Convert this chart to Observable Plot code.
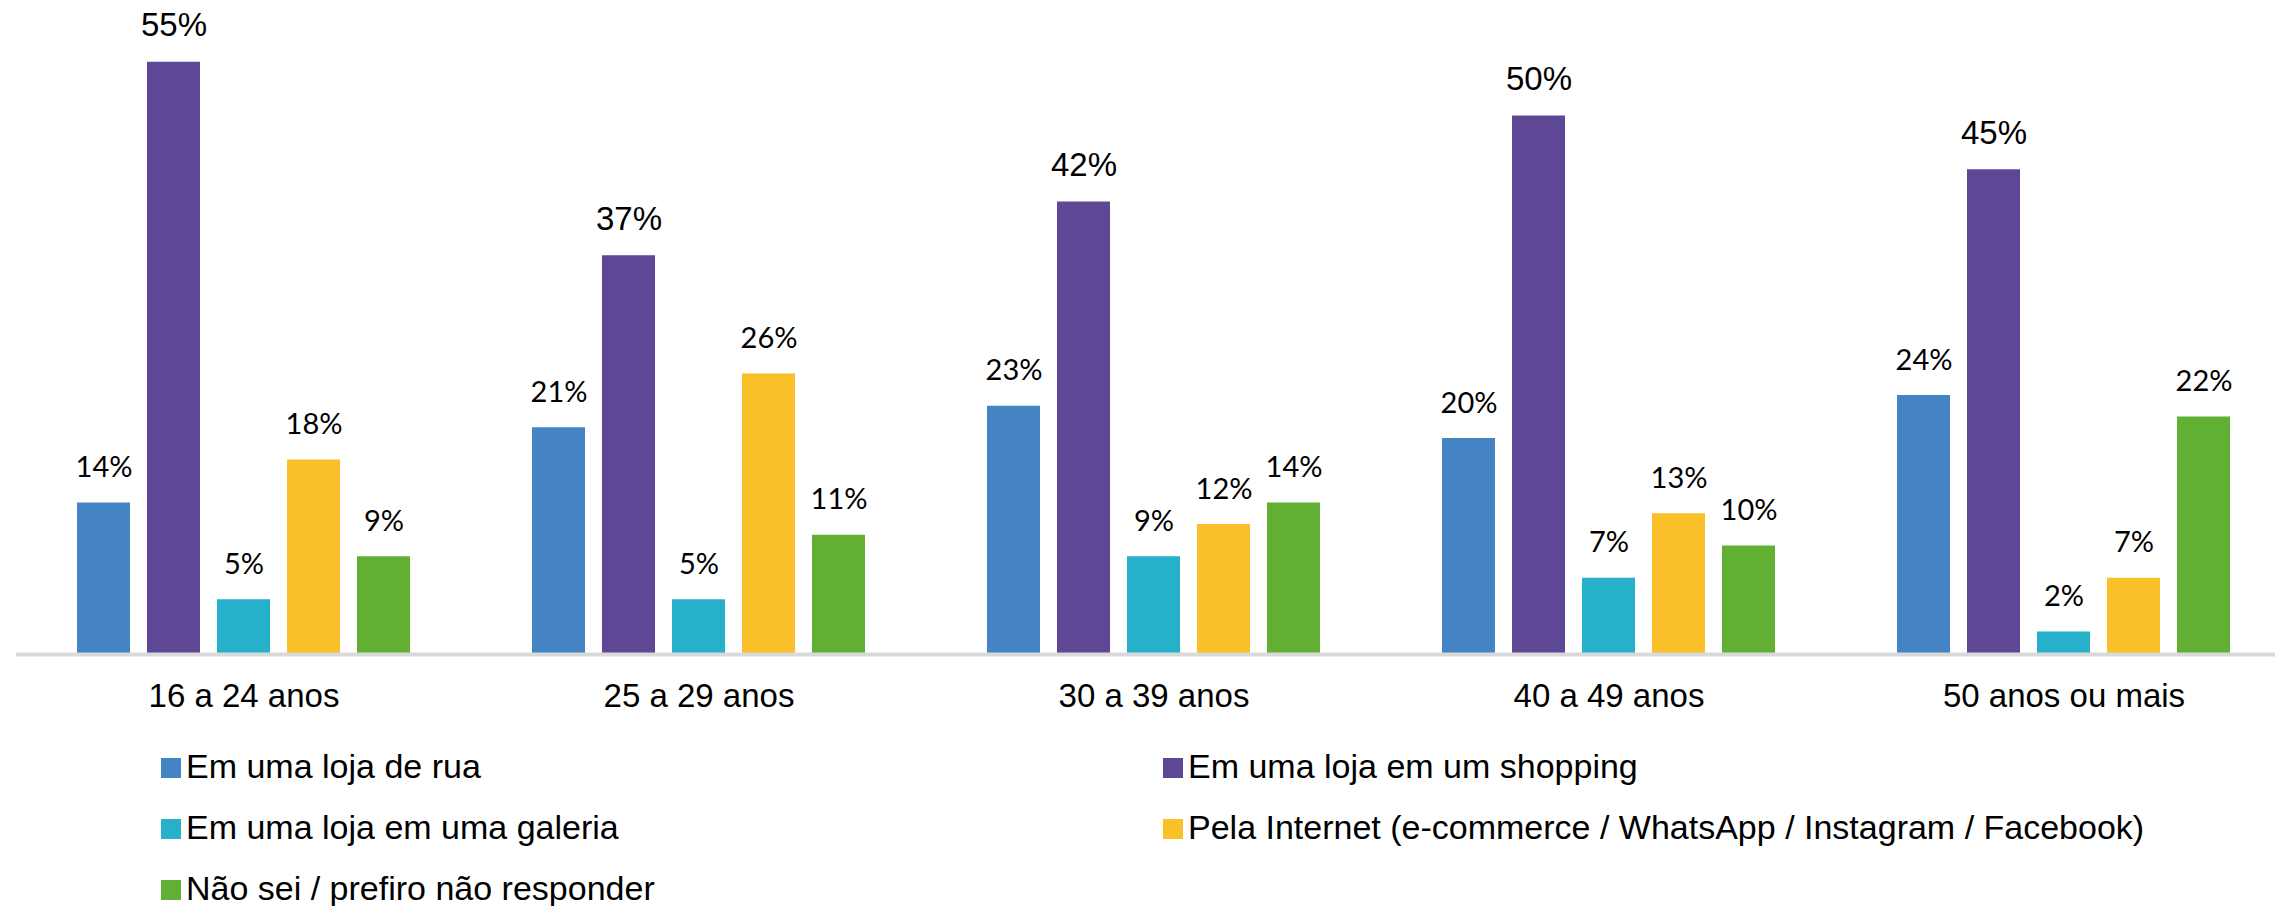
<!DOCTYPE html>
<html>
<head>
<meta charset="utf-8">
<script src="https://cdn.jsdelivr.net/npm/d3@7"></script>
<script src="https://cdn.jsdelivr.net/npm/@observablehq/plot@0.6"></script>
<style>
  html, body { margin: 0; padding: 0; background: #fff; }
  #legend {
    display: grid;
    grid-template-columns: 1002px 1002px;
    padding-left: 161px;
    font-family: "Liberation Sans", Arial, sans-serif;
    font-size: 34px;
    color: #000;
  }
  #legend .item { line-height: 61px; white-space: nowrap; }
  #legend .sw { display: inline-block; width: 20px; height: 20px; margin-right: 5px; vertical-align: baseline; }
</style>
</head>
<body>
<div id="chart"></div>
<div id="legend"></div>
<script>
const ages = ["16 a 24 anos", "25 a 29 anos", "30 a 39 anos", "40 a 49 anos", "50 anos ou mais"];
const series = [
  "Em uma loja de rua",
  "Em uma loja em um shopping",
  "Em uma loja em uma galeria",
  "Pela Internet (e-commerce / WhatsApp / Instagram / Facebook)",
  "Não sei / prefiro não responder"
];
const colors = ["#4584c4", "#5e4896", "#26b0ca", "#f9c02a", "#61b034"];
const lojaDeRua = [14, 21, 23, 20, 24];
const shopping  = [55, 37, 42, 50, 45];
const galeria   = [5, 5, 9, 7, 2];
const internet  = [18, 26, 12, 13, 7];
const naoSei    = [9, 11, 14, 10, 22];

const seriesValues = [lojaDeRua, shopping, galeria, internet, naoSei];
const rows = [];
ages.forEach((age, i) => {
  series.forEach((s, j) => rows.push({age, series: s, value: seriesValues[j][i]}));
});
const purpleRows = rows.filter(d => d.series === series[1]);
const otherRows = rows.filter(d => d.series !== series[1]);

const chart = Plot.plot({
  width: 2275,
  height: 736,
  marginTop: 8,
  marginBottom: 83,
  marginLeft: 14,
  marginRight: 0,
  style: {fontFamily: "'Liberation Sans', Arial, sans-serif", fontSize: "33px", color: "#000", background: "#fff"},
  fx: {domain: ages, range: [14, 2292.75], padding: 0, label: null, axis: "bottom", tickSize: 0, tickPadding: 30},
  x: {domain: series, paddingInner: 0.237, paddingOuter: 0.839, axis: null},
  y: {domain: [0, 60], axis: null},
  color: {domain: series, range: colors},
  marks: [
    Plot.barY(rows, {fx: "age", x: "series", y: "value", fill: "series"}),
    Plot.ruleY([0], {stroke: "#d9d9d9", strokeWidth: 4, dy: 1}),
    Plot.text(otherRows, {
      fx: "age", x: "series", y: "value",
      text: d => d.value + "%",
      lineAnchor: "bottom", dy: -26,
      fontSize: 29, fontFamily: "Lato", fill: "#000"
    }),
    Plot.text(purpleRows, {
      fx: "age", x: "series", y: "value",
      text: d => d.value + "%",
      lineAnchor: "bottom", dy: -26,
      fontSize: 33, fontFamily: "'Liberation Sans', Arial", fill: "#000"
    })
  ]
});
document.getElementById("chart").appendChild(chart);

const legend = document.getElementById("legend");
series.forEach((s, j) => {
  const item = document.createElement("div");
  item.className = "item";
  const sw = document.createElement("span");
  sw.className = "sw";
  sw.style.background = colors[j];
  item.appendChild(sw);
  item.appendChild(document.createTextNode(s));
  legend.appendChild(item);
});
</script>
</body>
</html>
